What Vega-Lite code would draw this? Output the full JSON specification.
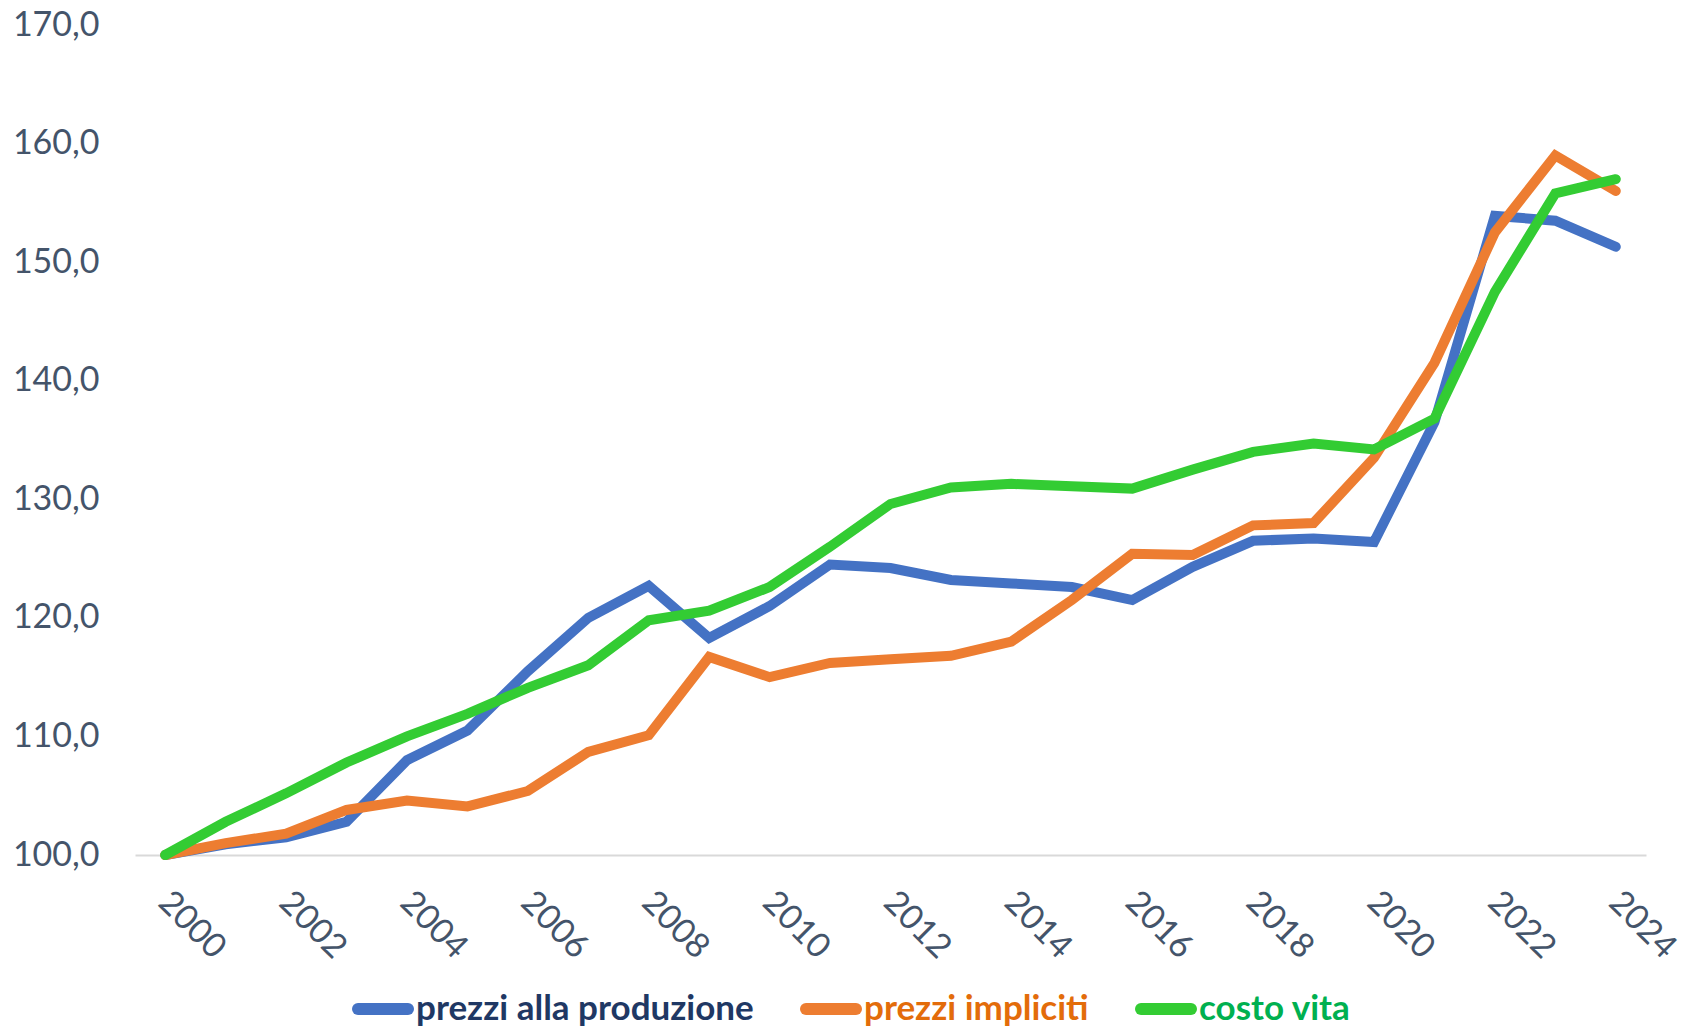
{
  "$schema": "https://vega.github.io/schema/vega-lite/v6.json",
  "width": 1511,
  "height": 830,
  "autosize": "none",
  "padding": {"left": 135, "top": 25, "right": 43, "bottom": 175},
  "background": "white",
  "data": {"values": [
    {"anno": 2000, "serie": "prezzi alla produzione", "valore": 100.0},
    {"anno": 2001, "serie": "prezzi alla produzione", "valore": 100.9},
    {"anno": 2002, "serie": "prezzi alla produzione", "valore": 101.5},
    {"anno": 2003, "serie": "prezzi alla produzione", "valore": 102.8},
    {"anno": 2004, "serie": "prezzi alla produzione", "valore": 108.0},
    {"anno": 2005, "serie": "prezzi alla produzione", "valore": 110.5},
    {"anno": 2006, "serie": "prezzi alla produzione", "valore": 115.5},
    {"anno": 2007, "serie": "prezzi alla produzione", "valore": 120.0},
    {"anno": 2008, "serie": "prezzi alla produzione", "valore": 122.7},
    {"anno": 2009, "serie": "prezzi alla produzione", "valore": 118.3},
    {"anno": 2010, "serie": "prezzi alla produzione", "valore": 121.0},
    {"anno": 2011, "serie": "prezzi alla produzione", "valore": 124.5},
    {"anno": 2012, "serie": "prezzi alla produzione", "valore": 124.2},
    {"anno": 2013, "serie": "prezzi alla produzione", "valore": 123.2},
    {"anno": 2014, "serie": "prezzi alla produzione", "valore": 122.9},
    {"anno": 2015, "serie": "prezzi alla produzione", "valore": 122.6},
    {"anno": 2016, "serie": "prezzi alla produzione", "valore": 121.5},
    {"anno": 2017, "serie": "prezzi alla produzione", "valore": 124.3},
    {"anno": 2018, "serie": "prezzi alla produzione", "valore": 126.5},
    {"anno": 2019, "serie": "prezzi alla produzione", "valore": 126.7},
    {"anno": 2020, "serie": "prezzi alla produzione", "valore": 126.4},
    {"anno": 2021, "serie": "prezzi alla produzione", "valore": 136.5},
    {"anno": 2022, "serie": "prezzi alla produzione", "valore": 153.9},
    {"anno": 2023, "serie": "prezzi alla produzione", "valore": 153.5},
    {"anno": 2024, "serie": "prezzi alla produzione", "valore": 151.3},
    {"anno": 2000, "serie": "prezzi impliciti", "valore": 100.0},
    {"anno": 2001, "serie": "prezzi impliciti", "valore": 101.0},
    {"anno": 2002, "serie": "prezzi impliciti", "valore": 101.8},
    {"anno": 2003, "serie": "prezzi impliciti", "valore": 103.8},
    {"anno": 2004, "serie": "prezzi impliciti", "valore": 104.6},
    {"anno": 2005, "serie": "prezzi impliciti", "valore": 104.1},
    {"anno": 2006, "serie": "prezzi impliciti", "valore": 105.4},
    {"anno": 2007, "serie": "prezzi impliciti", "valore": 108.7},
    {"anno": 2008, "serie": "prezzi impliciti", "valore": 110.1},
    {"anno": 2009, "serie": "prezzi impliciti", "valore": 116.7},
    {"anno": 2010, "serie": "prezzi impliciti", "valore": 115.0},
    {"anno": 2011, "serie": "prezzi impliciti", "valore": 116.2},
    {"anno": 2012, "serie": "prezzi impliciti", "valore": 116.5},
    {"anno": 2013, "serie": "prezzi impliciti", "valore": 116.8},
    {"anno": 2014, "serie": "prezzi impliciti", "valore": 118.0},
    {"anno": 2015, "serie": "prezzi impliciti", "valore": 121.5},
    {"anno": 2016, "serie": "prezzi impliciti", "valore": 125.4},
    {"anno": 2017, "serie": "prezzi impliciti", "valore": 125.3},
    {"anno": 2018, "serie": "prezzi impliciti", "valore": 127.8},
    {"anno": 2019, "serie": "prezzi impliciti", "valore": 128.0},
    {"anno": 2020, "serie": "prezzi impliciti", "valore": 133.5},
    {"anno": 2021, "serie": "prezzi impliciti", "valore": 141.5},
    {"anno": 2022, "serie": "prezzi impliciti", "valore": 152.5},
    {"anno": 2023, "serie": "prezzi impliciti", "valore": 159.0},
    {"anno": 2024, "serie": "prezzi impliciti", "valore": 156.0},
    {"anno": 2000, "serie": "costo vita", "valore": 100.0},
    {"anno": 2001, "serie": "costo vita", "valore": 102.8},
    {"anno": 2002, "serie": "costo vita", "valore": 105.2},
    {"anno": 2003, "serie": "costo vita", "valore": 107.8},
    {"anno": 2004, "serie": "costo vita", "valore": 110.0},
    {"anno": 2005, "serie": "costo vita", "valore": 111.9},
    {"anno": 2006, "serie": "costo vita", "valore": 114.1},
    {"anno": 2007, "serie": "costo vita", "valore": 116.0},
    {"anno": 2008, "serie": "costo vita", "valore": 119.8},
    {"anno": 2009, "serie": "costo vita", "valore": 120.6},
    {"anno": 2010, "serie": "costo vita", "valore": 122.6},
    {"anno": 2011, "serie": "costo vita", "valore": 126.0},
    {"anno": 2012, "serie": "costo vita", "valore": 129.6},
    {"anno": 2013, "serie": "costo vita", "valore": 131.0},
    {"anno": 2014, "serie": "costo vita", "valore": 131.3},
    {"anno": 2015, "serie": "costo vita", "valore": 131.1},
    {"anno": 2016, "serie": "costo vita", "valore": 130.9},
    {"anno": 2017, "serie": "costo vita", "valore": 132.5},
    {"anno": 2018, "serie": "costo vita", "valore": 134.0},
    {"anno": 2019, "serie": "costo vita", "valore": 134.7},
    {"anno": 2020, "serie": "costo vita", "valore": 134.2},
    {"anno": 2021, "serie": "costo vita", "valore": 136.8},
    {"anno": 2022, "serie": "costo vita", "valore": 147.5},
    {"anno": 2023, "serie": "costo vita", "valore": 155.8},
    {"anno": 2024, "serie": "costo vita", "valore": 157.0}
  ]},
  "mark": {"type": "line", "strokeWidth": 10, "strokeCap": "round", "strokeJoin": "miter"},
  "encoding": {
    "x": {
      "field": "anno", "type": "ordinal",
      "scale": {"type": "point", "padding": 0.5},
      "axis": {
        "title": null,
        "values": [2000, 2002, 2004, 2006, 2008, 2010, 2012, 2014, 2016, 2018, 2020, 2022, 2024],
        "labelAngle": 45,
        "labelAlign": "left",
        "labelBaseline": "top",
        "labelPadding": 30,
        "labelOffset": 10,
        "labelFont": "Lato",
        "labelFontSize": 34,
        "labelColor": "#44546A",
        "ticks": false,
        "domainColor": "#D9D9D9",
        "domainWidth": 2,
        "grid": false
      }
    },
    "y": {
      "field": "valore", "type": "quantitative",
      "scale": {"domain": [100, 170], "nice": false, "zero": false},
      "axis": {
        "title": null,
        "values": [100, 110, 120, 130, 140, 150, 160, 170],
        "labelExpr": "replace(format(datum.value, '.1f'), '.', ',')",
        "labelFont": "Lato",
        "labelFontSize": 34,
        "labelColor": "#44546A",
        "labelPadding": 36,
        "ticks": false,
        "domain": false,
        "grid": false
      }
    },
    "color": {
      "field": "serie", "type": "nominal",
      "scale": {
        "domain": ["prezzi alla produzione", "prezzi impliciti", "costo vita"],
        "range": ["#4472C4", "#ED7D31", "#33CC33"]
      },
      "legend": {
        "title": null,
        "orient": "none",
        "legendX": 217,
        "legendY": 953,
        "direction": "horizontal",
        "symbolType": "stroke",
        "symbolSize": 2500,
        "symbolStrokeWidth": 12,
        "labelFont": "Lato",
        "labelFontSize": 35,
        "labelFontWeight": "bold",
        "labelOffset": 2,
        "columnPadding": 28,
        "labelLimit": 0,
        "encode": {
          "symbols": {"update": {"strokeCap": {"value": "round"}}},
          "labels": {"update": {"fill": {"signal": "datum.value === 'prezzi alla produzione' ? '#1F3864' : datum.value === 'prezzi impliciti' ? '#E36C0A' : '#00B050'"}}}
        }
      }
    },
    "order": {"field": "anno"}
  },
  "config": {"view": {"stroke": null}}
}
